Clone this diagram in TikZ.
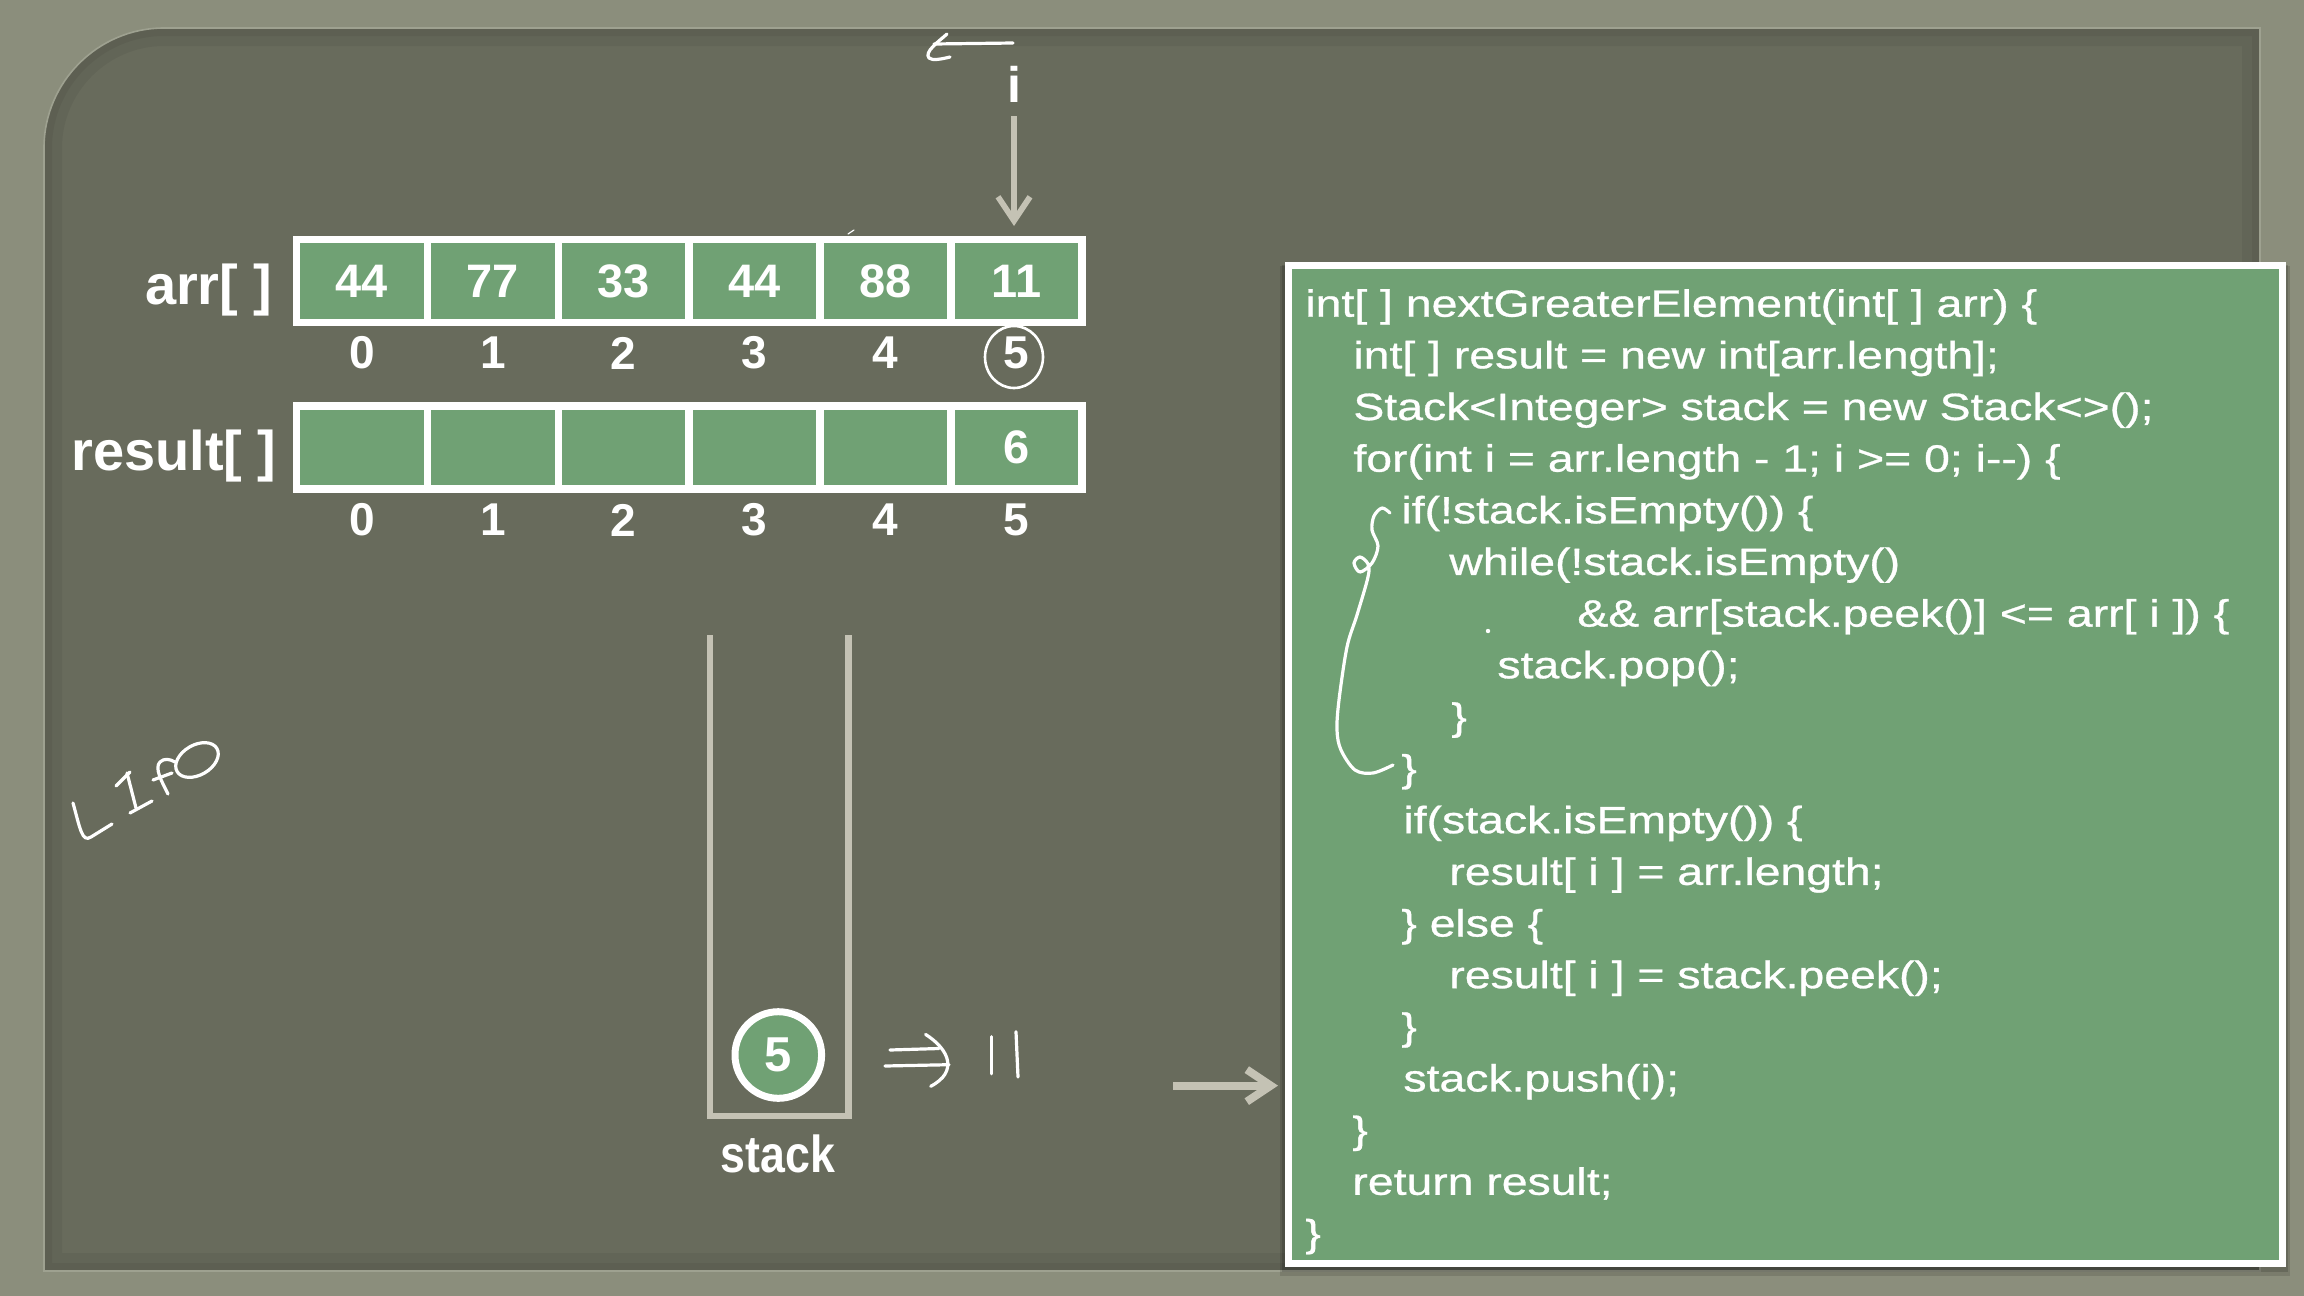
\documentclass[tikz,border=0pt]{standalone}
\usepackage{fontspec}
\setmainfont{Liberation Sans}
\newfontfamily\codefont[FakeStretch=1.22,FakeBold=0.8]{Liberation Sans}
\newfontfamily\condfont[FakeStretch=0.86]{Liberation Sans}
\usetikzlibrary{arrows.meta}
\definecolor{outerbg}{RGB}{139,142,124}
\definecolor{panelbg}{RGB}{104,107,92}
\definecolor{cellgreen}{RGB}{112,161,116}
\definecolor{arrowgray}{RGB}{196,194,180}
\definecolor{rim}{RGB}{158,161,144}
\begin{document}
\begin{tikzpicture}[x=0.5pt,y=-0.5pt,
  cell/.style={draw=white, line width=3.8pt, fill=cellgreen, minimum width=65.45pt,
    minimum height=41.5pt, inner sep=0pt, outer sep=0pt, text=white,
    font=\bfseries\fontsize{23.5pt}{26pt}\selectfont},
  idx/.style={text=white, inner sep=0pt, font=\bfseries\fontsize{23pt}{26pt}\selectfont},
  lbl/.style={text=white, inner sep=0pt, anchor=base east,
    font=\bfseries\fontsize{28pt}{32pt}\selectfont},
  code/.style={text=white, inner sep=0pt, anchor=base west,
    font=\codefont\fontsize{19pt}{22pt}\selectfont},
  hand/.style={draw=white, line width=1.6pt, line cap=round, line join=round},
  wall/.style={draw=arrowgray, line width=3.3pt, line join=miter},
  pointer/.style={draw=arrowgray, -{Straight Barb[length=12pt,width=16pt]}},
]
% background
\useasboundingbox (0,0) rectangle (2304,1296);
\fill[outerbg] (0,0) rectangle (2304,1296);
% panel
\fill[panelbg] (44,1271) -- (44,148) .. controls (44,82) and (98,28) .. (164,28)
  -- (2260,28) -- (2260,1271) -- cycle;
\begin{scope}
  \clip (44,1271) -- (44,148) .. controls (44,82) and (98,28) .. (164,28)
    -- (2260,28) -- (2260,1271) -- cycle;
  \draw[black, opacity=0.05, line width=18pt] (44,1271) -- (44,148) .. controls (44,82) and (98,28) .. (164,28)
    -- (2260,28) -- (2260,1271) -- cycle;
  \draw[black, opacity=0.05, line width=8pt] (44,1271) -- (44,148) .. controls (44,82) and (98,28) .. (164,28)
    -- (2260,28) -- (2260,1271) -- cycle;
\end{scope}
\draw[rim, line width=0.8pt] (44,1271) -- (44,148) .. controls (44,82) and (98,28) .. (164,28)
  -- (2260,28) -- (2260,1271) -- cycle;

% arr[] row
\node[lbl] (arrlbl) at (273,304) {arr[ ]};
\node[cell] (a0) at (361.95,281.15) {44};
\node[cell] (a1) at (492.85,281.15) {77};
\node[cell] (a2) at (623.75,281.15) {33};
\node[cell] (a3) at (754.65,281.15) {44};
\node[cell] (a4) at (885.55,281.15) {88};
\node[cell] (a5) at (1016.45,281.15) {11};
\node[idx] (ia0) at (361.95,353) {0};
\node[idx] (ia1) at (492.85,353) {1};
\node[idx] (ia2) at (623.75,353) {2};
\node[idx] (ia3) at (754.65,353) {3};
\node[idx] (ia4) at (885.55,353) {4};
\node[idx] (ia5) at (1016.45,353) {5};
\draw[hand, line width=1.3pt] (1014,357) ellipse [x radius=29, y radius=31];

% result[] row
\node[lbl] (reslbl) at (277,470) {result[ ]};
\node[cell] (r0) at (361.95,447.35) {};
\node[cell] (r1) at (492.85,447.35) {};
\node[cell] (r2) at (623.75,447.35) {};
\node[cell] (r3) at (754.65,447.35) {};
\node[cell] (r4) at (885.55,447.35) {};
\node[cell] (r5) at (1016.45,447.35) {6};
\node[idx] (ir0) at (361.95,520) {0};
\node[idx] (ir1) at (492.85,520) {1};
\node[idx] (ir2) at (623.75,520) {2};
\node[idx] (ir3) at (754.65,520) {3};
\node[idx] (ir4) at (885.55,520) {4};
\node[idx] (ir5) at (1016.45,520) {5};

% i pointer
\node[text=white, inner sep=0pt, anchor=base, font=\bfseries\fontsize{25pt}{28pt}\selectfont] (ilbl) at (1014,102) {i};
\coordinate (itip) at (1014,226);
\draw[pointer, line width=2.9pt, shorten <=7pt] (ilbl.south) -- (itip);
% handwritten mark above i
\draw[hand] (1013,43) -- (934,44);
\draw[hand] (947,34) .. controls (938,42) and (924,52) .. (929,58) .. controls (932,61) and (942,59) .. (950,57);
\draw[white, line width=0.6pt, line cap=round] (848,234) -- (854,230);

% stack
\draw[wall] (710,635) -- (710,1116) -- (848.3,1116) -- (848.3,635);
\node[circle, draw=white, line width=3.5pt, fill=cellgreen, minimum size=43.3pt, inner sep=0pt,
  text=white, font=\bfseries\fontsize{24.5pt}{27pt}\selectfont] (s5) at (778.3,1055) {5};
\node[text=white, inner sep=0pt, anchor=base, font=\condfont\bfseries\fontsize{26pt}{29pt}\selectfont] (stacklbl) at (778,1172) {stack};

% handwritten => 11
\draw[hand] (890,1050) -- (939,1048.5);
\draw[hand] (885,1066) -- (949,1064.7);
\draw[hand] (925.6,1034.4) .. controls (950,1050) and (958,1072) .. (930.7,1086.3);
\draw[hand] (991.3,1036.7) -- (991.3,1073.8);
\draw[hand] (1016,1031.7) -- (1018,1077);

% LIFO
\draw[hand] (73,803) .. controls (80,828) and (82,843) .. (91,837) -- (112,824);
\draw[hand] (116,786) -- (130,772);
\draw[hand] (127,773) -- (136,808);
\draw[hand] (130,813) -- (152,801);
\draw[hand] (168,794) .. controls (162,782) and (154,768) .. (160,762) .. controls (164,758) and (170,759) .. (175,762);
\draw[hand] (153,780) -- (172,773);
\draw[hand, rotate around={30:(197,760)}] (197,760) ellipse [x radius=23, y radius=15];

% pointer to code
\coordinate (rA) at (1173,1085.6);
\coordinate (rB) at (1278,1085.6);
\draw[pointer, line width=4pt] (rA) -- (rB);

% code box
\fill[black, opacity=0.12] (1280,266) rectangle (2290,1276);
\fill[black, opacity=0.15] (1282,265) rectangle (2288,1272);
\node[draw=white, line width=3.5pt, fill=cellgreen, minimum width=497pt, minimum height=499pt,
  inner sep=0pt, outer sep=0pt] (codebox) at (1785.5,764.5) {};

\node[code] (c1) at (1305,316.7) {int[ ] nextGreaterElement(int[ ] arr) \{};
\node[code] (c2) at (1353,368.35) {int[ ] result = new int[arr.length];};
\node[code] (c3) at (1353,420) {Stack<Integer> stack = new Stack<>();};
\node[code] (c4) at (1353,471.65) {for(int i = arr.length - 1; i >= 0; i-{}-) \{};
\node[code] (c5) at (1401,523.3) {if(!stack.isEmpty()) \{};
\node[code] (c6) at (1449,574.95) {while(!stack.isEmpty()};
\node[code] (c7) at (1577,626.6) {\&\& arr[stack.peek()] <= arr[ i ]) \{};
\node[code] (c8) at (1497,678.25) {stack.pop();};
\node[code] (c9) at (1451,729.9) {\}};
\node[code] (c10) at (1401,781.55) {\}};
\node[code] (c11) at (1403,833.2) {if(stack.isEmpty()) \{};
\node[code] (c12) at (1449,884.85) {result[ i ] = arr.length;};
\node[code] (c13) at (1401,936.5) {\} else \{};
\node[code] (c14) at (1449,988.15) {result[ i ] = stack.peek();};
\node[code] (c15) at (1401,1039.8) {\}};
\node[code] (c16) at (1403,1091.45) {stack.push(i);};
\node[code] (c17) at (1352,1143.1) {\}};
\node[code] (c18) at (1352,1194.75) {return result;};
\node[code] (c19) at (1305,1246.4) {\}};

% handwritten brace in code
\draw[hand] plot[smooth, tension=0.55] coordinates {(1390,513) (1382,508) (1374,516) (1372,530)
  (1378,546) (1372,563) (1360,572) (1354,563) (1360,557) (1368,564) (1368,577) (1357,615)
  (1347,647) (1339,700) (1337,730) (1341,750) (1355,770) (1373,773) (1393,765)};
\fill[white] (1488,631) circle [radius=2.2];
\end{tikzpicture}
\end{document}
